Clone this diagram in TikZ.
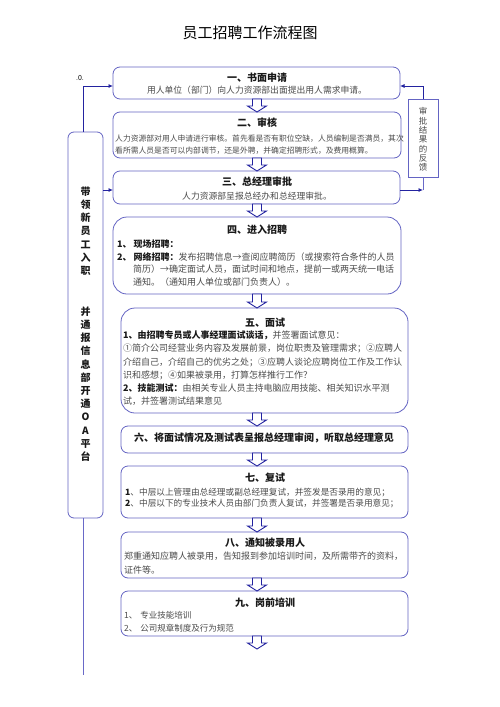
\documentclass[tikz,border=0pt]{standalone}
\usepackage{fontspec}
\setmainfont{Noto Sans CJK SC}
\usetikzlibrary{arrows.meta,calc}
\definecolor{boxc}{RGB}{100,100,195}
\definecolor{arrc}{RGB}{35,35,160}
\definecolor{linec}{RGB}{105,105,200}
\definecolor{txt}{RGB}{75,75,75}
\definecolor{hd}{RGB}{25,25,25}
\newcommand\blkarrow[3]{%
  \draw[blkarr] (#1-4.5,#2) -- (#1+4.5,#2) -- (#1+4.5,#3-6) -- (#1+9.5,#3-6)
    -- (#1,#3) -- (#1-9.5,#3-6) -- (#1-4.5,#3-6) -- cycle;}
\begin{document}
\begin{tikzpicture}[x=1pt,y=-1pt,
  box/.style={draw=boxc,line width=0.8pt,rounded corners=7pt,inner sep=0pt,outer sep=0pt,anchor=north west},
  blkarr/.style={draw=arrc,fill=white,line width=0.9pt,line join=miter},
  conn/.style={draw=linec,line width=0.8pt,-{Latex[length=4.5pt,width=4pt]},arrc},
  plainconn/.style={draw=linec,line width=0.8pt},
  head/.style={font=\fontsize{10}{12}\selectfont\bfseries,text=hd,inner sep=0pt},
  body/.style={text=txt,inner sep=0pt,align=left,anchor=north west},
  vtext/.style={font=\fontsize{10}{13.2}\selectfont\bfseries,text=hd,inner sep=0pt,align=center,anchor=north}
]
\useasboundingbox[fill=white] (0,0) rectangle (500,707);

\node[font=\fontsize{15}{18}\selectfont,text=black,inner sep=0pt] (title) at (250,33) {员工招聘工作流程图};

% boxes
\node[box,minimum width=287pt,minimum height=32pt] (b1) at (113,67) {};
\node[box,minimum width=288pt,minimum height=46pt] (b2) at (113,112) {};
\node[box,minimum width=287pt,minimum height=33pt] (b3) at (113,171) {};
\node[box,minimum width=288pt,minimum height=77pt,rounded corners=14pt] (b4) at (113,217) {};
\node[box,minimum width=287pt,minimum height=105pt,rounded corners=14pt] (b5) at (121,308) {};
\node[box,minimum width=287pt,minimum height=27pt] (b6) at (121,426) {};
\node[box,minimum width=287pt,minimum height=52pt] (b7) at (121,466) {};
\node[box,minimum width=287pt,minimum height=46pt] (b8) at (121,532) {};
\node[box,minimum width=287pt,minimum height=45pt] (b9) at (121,591) {};
\node[box,minimum width=35pt,minimum height=386pt,rounded corners=6pt] (left) at (68,132) {};
\node[box,minimum width=30pt,minimum height=78pt,rounded corners=0pt] (fb) at (408,99) {};

% block arrows
\blkarrow{257}{99}{112}
\blkarrow{257}{158}{171}
\blkarrow{257}{204}{217}
\blkarrow{257}{294}{308}
\blkarrow{257}{413}{426}
\blkarrow{257}{453}{466}
\blkarrow{257}{518}{532}
\blkarrow{257}{578}{591}
\blkarrow{257}{636}{649}

% box 1
\node[head] (h1) at (257,78) {一、书面申请};
\node[text=txt,inner sep=0pt,font=\fontsize{8.8}{11}\selectfont] (t1) at (257,90) {用人单位（部门）向人力资源部出面提出用人需求申请。};
% box 2
\node[head] (h2) at (257,123) {二、审核};
\node[body,font=\fontsize{7.8}{12}\selectfont] (t2) at (115,134.3) {人力资源部对用人申请进行审核。首先看是否有职位空缺，人员编制是否满员，其次\\看所需人员是否可以内部调节，还是外聘，并确定招聘形式，及费用概算。};
% box 3
\node[head] (h3) at (257,182) {三、总经理审批};
\node[text=txt,inner sep=0pt,font=\fontsize{8.8}{11}\selectfont] (t3) at (257,196) {人力资源部呈报总经办和总经理审批。};
% box 4
\node[head] (h4) at (257,230) {四、进入招聘};
\node[body,font=\fontsize{9}{12.7}\selectfont] (t4) at (117,239.7) {\textcolor{hd}{\bfseries 1、 现场招聘：}\\\textcolor{hd}{\bfseries 2、 网络招聘：}发布招聘信息→查阅应聘简历（或搜索符合条件的人员\\\hspace{16pt}简历）→确定面试人员，面试时间和地点，提前一或两天统一电话\\\hspace{16pt}通知。（通知用人单位或部门负责人）。};
% box 5
\node[head] (h5) at (265,323) {五、面试};
\node[body,font=\fontsize{9}{13.2}\selectfont] (t5) at (123,330.7) {\textcolor{hd}{\bfseries 1、由招聘专员或人事经理面试谈话，}并签署面试意见：\\①简介公司经营业务内容及发展前景，岗位职责及管理需求；②应聘人\\介绍自己，介绍自己的优劣之处；③应聘人谈论应聘岗位工作及工作认\\识和感想；④如果被录用，打算怎样推行工作？\\\textcolor{hd}{\bfseries 2、技能测试：}由相关专业人员主持电脑应用技能、相关知识水平测\\试，并签署测试结果意见};
% box 6
\node[head] (h6) at (264,438) {六、将面试情况及测试表呈报总经理审阅，听取总经理意见};
% box 7
\node[head] (h7) at (265,478) {七、复试};
\node[body,font=\fontsize{8.65}{11.7}\selectfont] (t7) at (125,487.7) {\textcolor{hd}{\bfseries 1}、中层以上管理由总经理或副总经理复试，并签发是否录用的意见；\\\textcolor{hd}{\bfseries 2}、中层以下的专业技术人员由部门负责人复试，并签署是否录用意见；};
% box 8
\node[head] (h8) at (265,543) {八、通知被录用人};
\node[body,font=\fontsize{9}{14}\selectfont] (t8) at (124,551.5) {郑重通知应聘人被录用，告知报到参加培训时间，及所需带齐的资料，\\证件等。};
% box 9
\node[head] (h9) at (265,603) {九、岗前培训};
\node[body,font=\fontsize{8.5}{13}\selectfont] (t9) at (124,611) {1、\hspace{3pt}专业技能培训\\2、\hspace{3pt}公司规章制度及行为规范};

% left vertical text
\node[vtext] (lv1) at (85.5,186.5) {带\\领\\新\\员\\工\\入\\职};
\node[vtext] (lv2) at (85.5,306.5) {并\\通\\报\\信\\息\\部\\开\\通\\O\\A\\平\\台};
% feedback text
\node[font=\fontsize{8.5}{9.3}\selectfont,text=txt,inner sep=0pt,align=center,anchor=north] (fbt) at (423,107.5) {审\\批\\结\\果\\的\\反\\馈};

\node[font=\fontsize{7}{8}\selectfont,text=black,inner sep=0pt] (dot) at (80,78) {.0.};

% connectors
\draw[conn] ([xshift=-2.5pt]left.north) |- ([yshift=-3pt]b1.west);
\draw[conn] (fb.north) |- ([yshift=-3pt]b1.east);
\draw[conn] ([yshift=-2.5pt]b3.east) -- ++(23,0) coordinate (rc);
\draw[plainconn] (rc) -- (fb.south);
\draw[conn] ([yshift=-2.5pt]b3.west -| left.east) -- ([yshift=-2.5pt]b3.west);
\coordinate (lend) at (83,675);
\draw[plainconn] ([xshift=-2.5pt]left.south) -- (lend);
\end{tikzpicture}
\end{document}
